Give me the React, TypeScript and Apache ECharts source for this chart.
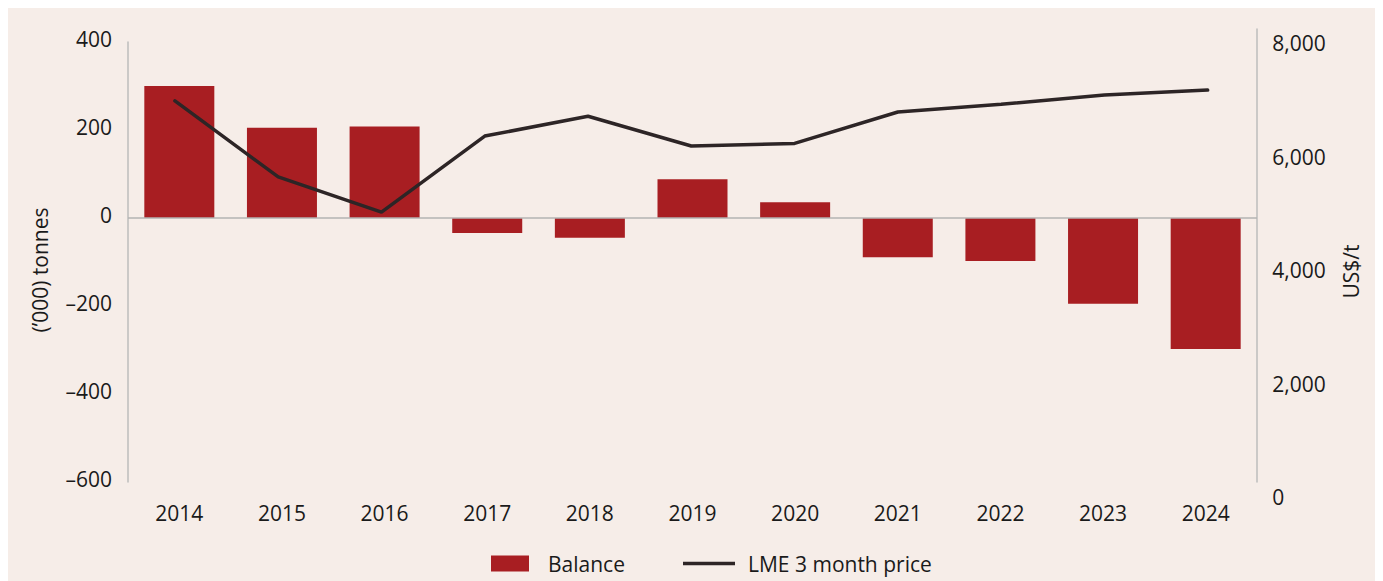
import React, { useEffect, useRef } from 'react';
import * as echarts from 'echarts';

const years = ['2014', '2015', '2016', '2017', '2018', '2019', '2020', '2021', '2022', '2023', '2024'];
const balance = [300, 205, 208, -34, -45, 88, 36, -89, -98, -195, -298];
const lmePrice = [6980, 5640, 5020, 6360, 6710, 6185, 6230, 6785, 6920, 7085, 7170];
const balanceAxis = { min: -600, max: 400, interval: 200 };
const priceAxis = { min: 0, max: 8000, interval: 2000 };
const seriesNames = ['Balance', 'LME 3 month price'];
const leftAxisTitle = '(\u2019000) tonnes';
const rightAxisTitle = 'US$/t';

export default function App() {
  const ref = useRef<HTMLDivElement>(null);
  useEffect(() => {
    document.documentElement.style.overflow = 'hidden';
    const chart = echarts.init(ref.current!, null, { renderer: 'svg' });
    const font = "'Open Sans', sans-serif";
    const fs = 21;
    const textColor = '#1a1a1a';
    const axisGray = '#bdbdbd';
    chart.setOption({
      animation: false,
      backgroundColor: '#f6ede8',
      textStyle: { fontFamily: font },
      grid: [
        { left: 120, top: 34, width: 1129, height: 440 },
        { left: 115.3, top: 35, width: 1136, height: 454 },
        { left: 120, top: 21, width: 1129, height: 453 },
      ],
      xAxis: [
        {
          type: 'category', gridIndex: 0, data: years,
          axisLine: { show: false }, axisTick: { show: false },
          axisLabel: { margin: 20, fontSize: fs, color: textColor, fontFamily: font },
        },
        { type: 'category', gridIndex: 1, data: years, show: false },
        { type: 'category', gridIndex: 2, data: years, show: false },
      ],
      yAxis: [
        {
          type: 'value', gridIndex: 0, ...balanceAxis,
          axisLine: { show: true, lineStyle: { color: axisGray, width: 1.5 } },
          axisTick: { show: false }, splitLine: { show: false },
          axisLabel: {
            margin: 16, fontSize: fs, color: textColor, fontFamily: font,
            verticalAlign: 'bottom', lineHeight: 7,
            formatter: (v: number) => String(v).replace('-', '\u2013'),
          },
        },
        {
          type: 'value', gridIndex: 1, position: 'right', ...priceAxis,
          axisLine: { show: false }, axisTick: { show: false }, splitLine: { show: false },
          axisLabel: {
            margin: 13, fontSize: fs, color: textColor, fontFamily: font,
            formatter: (v: number) => v.toLocaleString('en-US'),
          },
        },
        {
          type: 'value', gridIndex: 2, position: 'right', min: 0, max: 1,
          axisLine: { show: true, lineStyle: { color: axisGray, width: 1.5 } },
          axisTick: { show: false }, splitLine: { show: false }, axisLabel: { show: false },
        },
      ],
      legend: [
        {
          data: [seriesNames[0]], left: 483, top: 545, padding: 0, itemWidth: 38, itemHeight: 16,
          icon: 'rect', selectedMode: false,
          textStyle: { fontSize: fs, color: textColor, fontFamily: font, padding: [0, 0, 0, 14] },
        },
        {
          data: [seriesNames[1]], left: 675, top: 545, padding: 0, itemWidth: 52, itemHeight: 3.5,
          icon: 'rect', selectedMode: false,
          textStyle: { fontSize: fs, color: textColor, fontFamily: font, padding: [0, 0, 0, 8] },
        },
      ],
      graphic: [
        {
          type: 'text', x: 32, y: 262, rotation: Math.PI / 2,
          style: { text: leftAxisTitle, fontSize: fs, fontFamily: font, fill: textColor, align: 'center', verticalAlign: 'middle' },
        },
        {
          type: 'text', x: 1343, y: 263.5, rotation: Math.PI / 2,
          style: { text: rightAxisTitle, fontSize: fs, fontFamily: font, fill: textColor, align: 'center', verticalAlign: 'middle' },
        },
      ],
      series: [
        {
          name: seriesNames[0], type: 'bar', xAxisIndex: 0, yAxisIndex: 0,
          data: balance, barWidth: 70,
          itemStyle: { color: '#a81e22' },
          markLine: {
            silent: true, symbol: ['none', 'none'], label: { show: false },
            lineStyle: { color: '#b3b3b3', width: 1.5, type: 'solid' },
            data: [{ yAxis: 0 }],
          },
        },
        {
          name: seriesNames[1], type: 'line', xAxisIndex: 1, yAxisIndex: 1,
          data: lmePrice, symbol: 'none', showSymbol: false,
          lineStyle: { color: '#2d2526', width: 3.5, cap: 'round' },
          itemStyle: { color: '#2d2526' },
        },
      ],
    });
    return () => chart.dispose();
  }, []);
  return <div ref={ref} style={{ width: 1375, height: 573 }} />;
}
